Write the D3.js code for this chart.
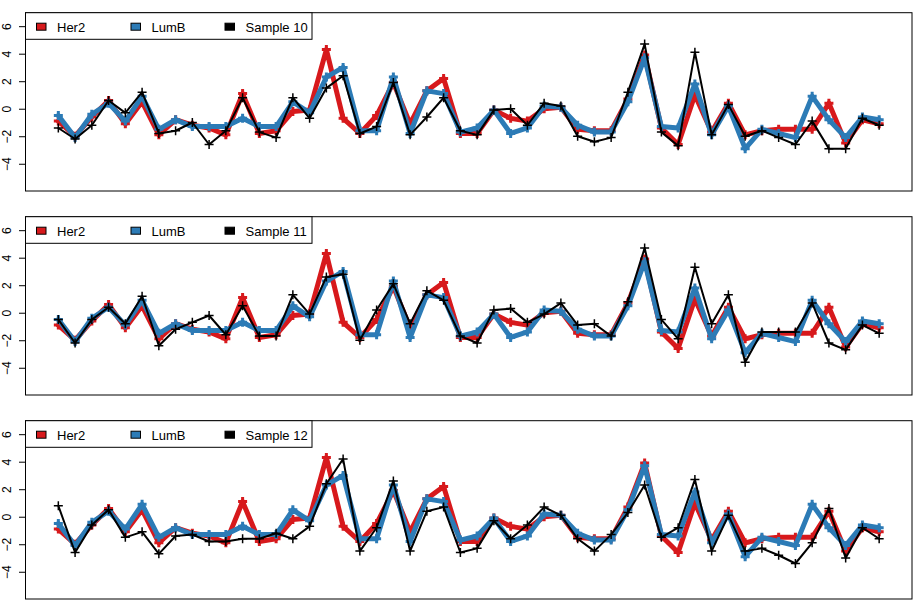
<!DOCTYPE html>
<html><head><meta charset="utf-8">
<script src="https://cdn.jsdelivr.net/npm/d3@7"></script>
<style>body{margin:0;background:#fff}svg{display:block}text{font-family:"Liberation Sans",Arial,sans-serif}</style>
</head><body>
<script>
const her2 = [-0.9,-2.0,-0.6,0.6,-1.1,0.5,-1.9,-0.8,-1.2,-1.4,-1.9,1.1,-1.8,-1.6,-0.2,-0.1,
  4.3,-0.7,-1.8,-0.5,1.9,-1.1,1.3,2.2,-1.8,-1.8,-0.1,-0.7,-0.9,0.0,0.1,-1.5,-1.6,-1.6,
  0.7,3.9,-1.4,-2.6,1.0,-1.7,0.4,-1.9,-1.6,-1.5,-1.5,-1.5,0.4,-2.5,-0.8,-1.1];
const lumB = [-0.5,-2.1,-0.4,0.4,-0.9,0.9,-1.5,-0.8,-1.3,-1.3,-1.3,-0.7,-1.3,-1.3,0.5,-0.3,
  2.3,3.0,-1.6,-1.6,2.3,-1.8,1.3,1.1,-1.7,-1.4,-0.1,-1.8,-1.4,0.2,0.1,-1.2,-1.7,-1.7,
  0.5,3.7,-1.3,-1.4,1.8,-1.9,0.2,-2.9,-1.5,-1.8,-2.1,0.9,-0.8,-2.1,-0.6,-0.8];
const sample10 = [-1.4,-2.2,-1.2,0.6,-0.3,1.2,-1.8,-1.6,-1.0,-2.6,-1.6,0.8,-1.7,-2.1,0.8,-0.7,
  1.5,2.4,-1.8,-1.3,1.9,-1.9,-0.6,0.8,-1.6,-1.9,-0.1,0.0,-1.2,0.4,0.2,-2.0,-2.4,-2.1,
  1.2,4.7,-1.7,-2.7,4.1,-1.9,0.3,-2.0,-1.6,-2.1,-2.6,-0.9,-2.9,-2.9,-0.7,-1.2];
const sample11 = [-0.5,-2.2,-0.5,0.4,-0.8,1.2,-2.4,-1.2,-0.7,-0.2,-1.6,0.5,-1.7,-1.7,1.3,-0.1,
  2.6,2.8,-2.0,0.2,2.1,-0.8,1.6,0.9,-1.7,-2.2,0.2,0.3,-0.7,-0.1,0.7,-0.9,-0.8,-1.7,
  0.8,4.7,-0.5,-1.9,3.3,-0.8,1.3,-3.6,-1.4,-1.4,-1.4,0.7,-2.2,-2.7,-0.9,-1.5];
const sample12 = [0.8,-2.6,-0.6,0.5,-1.5,-1.1,-2.7,-1.4,-1.3,-1.8,-1.8,-1.6,-1.6,-1.2,-1.6,-0.7,
  2.4,4.2,-2.5,-0.8,2.6,-2.5,0.4,0.7,-2.6,-2.3,-0.3,-1.6,-0.6,0.7,0.1,-1.6,-2.5,-1.3,
  0.3,2.3,-1.5,-0.8,2.7,-2.5,0.1,-2.5,-2.3,-2.8,-3.4,-1.9,0.6,-3.0,-0.8,-1.6];
const sampleNames = ["Sample 10","Sample 11","Sample 12"];
const sampleSeries = [sample10, sample11, sample12];
const legendLabels = ["Her2","LumB"];
const yTicks = [-4,-2,0,2,4,6];

const W = 913, H = 612;
const left = 25.5, right = 912, panelH = 178.3;
const tops = [12.7, 216.7, 420.7];
const colRed = "#d7191c", colBlue = "#2c7bb6", colBlack = "#000000";

const svg = d3.select("body").append("svg").attr("width", W).attr("height", H);
const n = her2.length;
const x = d3.scaleLinear().domain([1 - 0.04*(n-1), n + 0.04*(n-1)]).range([left, right]);

sampleSeries.forEach((samp, k) => {
  const top = tops[k], bottom = top + panelH;
  const y = d3.scaleLinear().domain([-5.5 - 0.48, 6.5 + 0.48]).range([bottom, top]);
  const g = svg.append("g");
  const line = d3.line().x((d,i) => x(i+1)).y(d => y(d));
  const series = [
    {v: her2, c: colRed, w: 5},
    {v: lumB, c: colBlue, w: 5},
    {v: samp, c: colBlack, w: 2}
  ];
  series.forEach(s => {
    g.append("path").datum(s.v).attr("d", line).attr("fill","none")
      .attr("stroke", s.c).attr("stroke-width", s.w)
      .attr("stroke-linejoin","round").attr("stroke-linecap","round");
    const pw = s.w > 3 ? 3 : 1.5;
    const a = 4.5;
    g.append("g").selectAll("path").data(s.v).join("path")
      .attr("d", (d,i) => {
        const cx = x(i+1), cy = y(d);
        return `M${cx-a},${cy}H${cx+a}M${cx},${cy-a}V${cy+a}`;
      })
      .attr("stroke", s.c).attr("stroke-width", pw).attr("fill","none");
  });
  g.append("rect").attr("x", left).attr("y", top).attr("width", right-left).attr("height", panelH)
    .attr("fill","none").attr("stroke","#000").attr("stroke-width",1);
  const ax = g.append("g").attr("transform", `translate(${left},0)`)
    .call(d3.axisLeft(y).tickValues(yTicks).tickSize(6.5).tickPadding(0).tickFormat(d3.format("d")));
  ax.select(".domain").attr("d", `M0,${y(-4)}V${y(6)}`).attr("stroke","#000");
  ax.selectAll(".tick line").attr("stroke","#000");
  ax.selectAll(".tick text").attr("font-size", 12).attr("fill","#000")
    .attr("text-anchor","middle").attr("dy", null)
    .attr("transform", "translate(-18.5,0) rotate(-90)").attr("x", 0).attr("y", 0)
    .attr("dominant-baseline", "central");
  const lg = g.append("g");
  lg.append("rect").attr("x", left).attr("y", top).attr("width", 312-left).attr("height", 26.6)
    .attr("fill","#fff").attr("stroke","#000").attr("stroke-width",1);
  const labels = [legendLabels[0], legendLabels[1], sampleNames[k]];
  const cols = [colRed, colBlue, colBlack];
  const xs = [36, 130.5, 224.5];
  labels.forEach((lab, j) => {
    lg.append("rect").attr("x", xs[j]+0.5).attr("y", top+10.5).attr("width", 9.5).attr("height", 7)
      .attr("fill", cols[j]).attr("stroke","#000").attr("stroke-width",1);
    lg.append("text").attr("x", xs[j]+21).attr("y", top+18.8).attr("font-size", 13)
      .attr("fill","#000").text(lab);
  });
});
</script>
</body></html>
